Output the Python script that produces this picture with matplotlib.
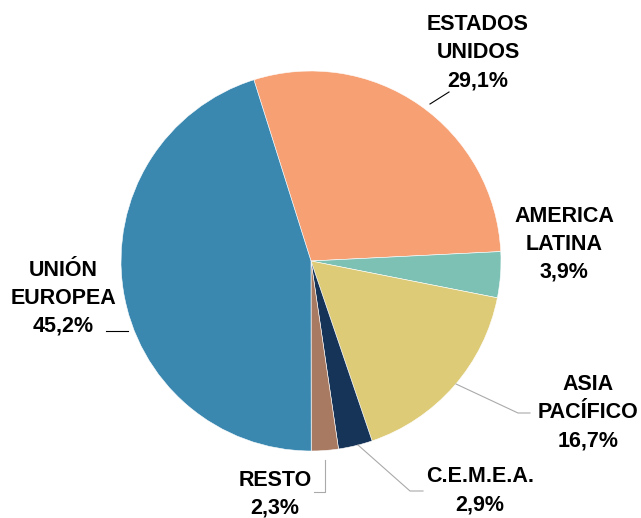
import matplotlib.pyplot as plt

# Ventas por región (%)
regiones = ['ESTADOS\nUNIDOS', 'AMERICA\nLATINA', 'ASIA\nPACÍFICO', 'C.E.M.E.A.', 'RESTO', 'UNIÓN\nEUROPEA']
valores = [29.1, 3.9, 16.7, 2.9, 2.3, 45.2]
colores = ['#F6A074', '#7DC1B5', '#DDCB78', '#163457', '#A97A62', '#3A87B0']

plt.rcParams['font.family'] = ['Liberation Sans', 'DejaVu Sans']

W, H = 641, 518
fig = plt.figure(figsize=(W / 100, H / 100), dpi=100)
ax = fig.add_axes([0, 0, 1, 1])

cx, cy, r = 311, H - 261, 190
ax.pie(valores, colors=colores, startangle=107.5, counterclock=False,
       center=(cx, cy), radius=r, frame=True,
       wedgeprops=dict(edgecolor='white', linewidth=0.4))
ax.set_xlim(0, W)
ax.set_ylim(0, H)
ax.set_aspect('equal')
ax.axis('off')

# posiciones de las etiquetas en píxeles (x centro, y primera línea)
pos = [(478, 25), (564, 216), (588, 385), (480, 477), (275, 480), (63, 270)]
for nombre, v, (x, y) in zip(regiones, valores, pos):
    lineas = nombre.split('\n') + [f'{v:.1f}%'.replace('.', ',')]
    for i, linea in enumerate(lineas):
        ax.text(x, H - (y + 28 * i), linea, ha='center', va='center',
                fontsize=15.5, fontweight='bold', color='black')

# líneas guía
guias = [
    ([430, 449], [104, 92], 'black'),
    ([106, 128], [331, 331], 'black'),
    ([456, 518, 530], [384, 413, 413], '#AAAAAA'),
    ([358, 410, 423], [445, 491, 491], '#AAAAAA'),
    ([325, 325, 314], [460, 492, 492], '#AAAAAA'),
]
for xs, ys, c in guias:
    ax.plot(xs, [H - y for y in ys], color=c, linewidth=0.8)

fig.savefig('out.png', dpi=100)
